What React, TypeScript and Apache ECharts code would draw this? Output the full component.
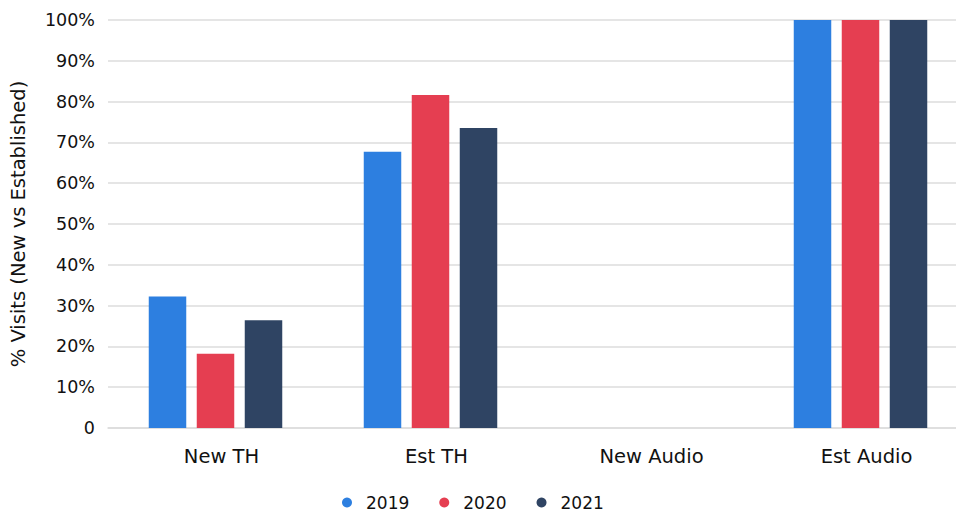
import React, { useEffect, useRef } from "react";
import * as echarts from "echarts";

const categories = ["New TH", "Est TH", "New Audio", "Est Audio"];
const years = ["2019", "2020", "2021"];
const values2019 = [32.2, 67.7, 0, 100];
const values2020 = [18.2, 81.6, 0, 100];
const values2021 = [26.4, 73.5, 0, 100];
const colors = ["#2D7FE0", "#E53E51", "#2F4463"];
const yTicks = [0, 10, 20, 30, 40, 50, 60, 70, 80, 90, 100];

const FONT = "'DejaVu Sans', sans-serif";
const INK = "#111111";

export default function App() {
  const ref = useRef<HTMLDivElement>(null);

  useEffect(() => {
    if (!ref.current) return;
    const chart = echarts.init(ref.current, undefined, { renderer: "svg" });
    const seriesValues = [values2019, values2020, values2021];

    chart.setOption({
      animation: false,
      color: colors,
      textStyle: { fontFamily: FONT },
      // the plot runs a little past the visible frame on the right
      grid: { left: 106, right: 0, top: 20, bottom: 84 },
      legend: {
        left: 337,
        top: 489,
        icon: "circle",
        itemWidth: 28,
        itemHeight: 10,
        itemGap: 30,
        textStyle: { fontFamily: FONT, fontSize: 17, color: INK },
        data: years,
      },
      xAxis: {
        type: "category",
        data: categories,
        axisTick: { show: false },
        axisLine: { lineStyle: { color: "#DCDCDC", width: 1.5 } },
        axisLabel: {
          margin: 18,
          padding: [0, 0, 0, 12],
          fontFamily: FONT,
          fontSize: 19.5,
          color: INK,
        },
      },
      yAxis: {
        type: "value",
        min: yTicks[0],
        max: yTicks[yTicks.length - 1],
        interval: 10,
        name: "% Visits (New vs Established)",
        nameLocation: "middle",
        nameGap: 80,
        nameTextStyle: { fontFamily: FONT, fontSize: 19.5, color: INK },
        axisLine: { show: false },
        axisTick: { show: false },
        splitLine: { lineStyle: { color: "#DCDCDC", width: 1.5 } },
        axisLabel: {
          margin: 13,
          fontFamily: FONT,
          fontSize: 17.5,
          color: INK,
          formatter: (v: number) => (v === 0 ? "0" : `${v}%`),
        },
      },
      series: years.map((y, i) => ({
        name: y,
        type: "bar",
        data: seriesValues[i],
        barWidth: 37.5,
        barGap: "28%",
      })),
    });

    return () => chart.dispose();
  }, []);

  return (
    <div
      style={{
        position: "fixed",
        left: 0,
        top: 0,
        width: 956,
        height: 512,
        overflow: "hidden",
        background: "#fff",
      }}
    >
      <div ref={ref} style={{ width: 967.5, height: 512 }} />
    </div>
  );
}
